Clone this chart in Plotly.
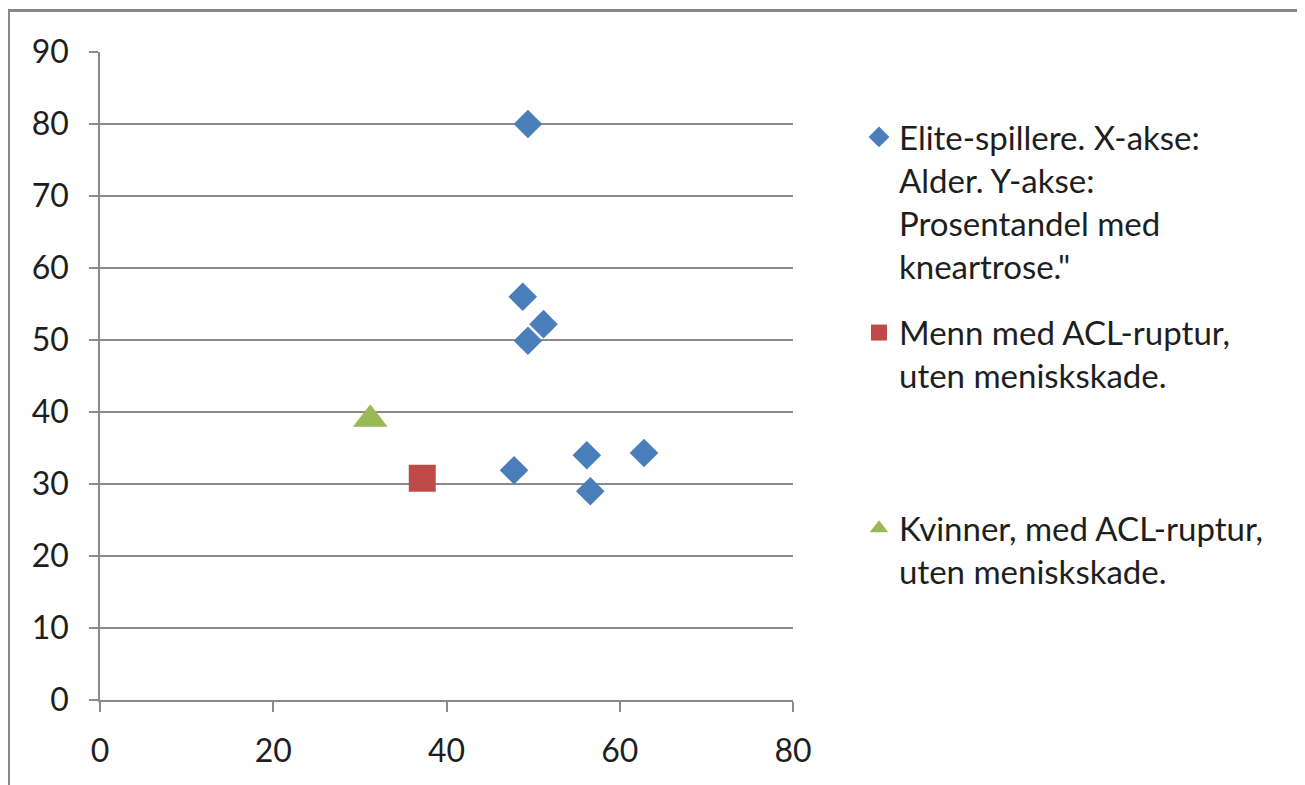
import plotly.graph_objects as go

# Data
elite_x = [49.4, 48.8, 51.2, 49.4, 47.8, 56.2, 56.6, 62.8]
elite_y = [80.0, 56.0, 52.2, 49.9, 31.9, 34.0, 29.0, 34.3]
menn_x = [37.2]
menn_y = [30.8]
kvinner_x = [31.2]
kvinner_y = [39.0]

names = [
    "Elite-spillere. X-akse:<br>Alder. Y-akse:<br>Prosentandel med<br>kneartrose.\"",
    "Menn med ACL-ruptur,<br>uten meniskskade.<br> <br> ",
    "Kvinner, med ACL-ruptur,<br>uten meniskskade.",
]

x_ticks = [0, 20, 40, 60, 80]
y_ticks = [0, 10, 20, 30, 40, 50, 60, 70, 80, 90]

FONT = "Lato, 'Open Sans', sans-serif"
GRID = "#8a8a8a"
TXT = "#1e1e1e"

# page body has an 8px offset; compensate in margins
OFF = 8
L, R, T, B = 100 - OFF, 1305 - (793 - OFF), 52 - OFF, 785 - (700 - OFF)
PW, PH = 693, 648

fig = go.Figure()
fig.add_trace(go.Scatter(x=elite_x, y=elite_y, mode="markers", name=names[0], legendgroup="a",
                         marker=dict(symbol="diamond", size=22, color="#4A7EBB")))
fig.add_trace(go.Scatter(x=menn_x, y=menn_y, mode="markers", name=names[1], legendgroup="b",
                         marker=dict(symbol="square", size=27, color="#BE4B48")))
fig.add_trace(go.Scatter(x=kvinner_x, y=kvinner_y, mode="markers", name=names[2], legendgroup="c",
                         marker=dict(symbol="triangle-up", size=30, color="#98B954")))

# outer frame
fig.add_shape(type="rect", xref="paper", yref="paper",
              x0=(8.5 - 100) / PW, x1=(1303 - 100) / PW,
              y0=(700 - 800) / PH, y1=(700 - 10.5) / PH,
              line=dict(color="#878787", width=3), fillcolor="rgba(0,0,0,0)", layer="below")

fig.update_layout(
    width=1305, height=785,
    margin=dict(l=L, r=R, t=T, b=B),
    paper_bgcolor="white", plot_bgcolor="white",
    font=dict(family=FONT, size=32, color=TXT),
    showlegend=True,
    legend=dict(x=(859 - 100) / PW, xanchor="left", y=(700 - 109) / PH, yanchor="top",
                valign="top", tracegroupgap=21, font=dict(family=FONT, size=33, color=TXT),
                bgcolor="rgba(0,0,0,0)"),
    xaxis=dict(range=[0, 80], tickvals=x_ticks, showgrid=False, zeroline=False,
               showline=True, linecolor=GRID, linewidth=1.5,
               ticks="outside", ticklen=10, tickcolor=GRID, tickwidth=1.5,
               ticklabelstandoff=12,
               tickfont=dict(family=FONT, size=32, color=TXT)),
    yaxis=dict(range=[0, 90], tickvals=y_ticks, showgrid=True, gridcolor=GRID, gridwidth=1.5,
               zeroline=False, showline=True, linecolor=GRID, linewidth=1.5,
               ticks="outside", ticklen=9, tickcolor=GRID, tickwidth=1.5,
               ticklabelstandoff=14,
               tickfont=dict(family=FONT, size=32, color=TXT)),
)

fig.write_html("out.html")
